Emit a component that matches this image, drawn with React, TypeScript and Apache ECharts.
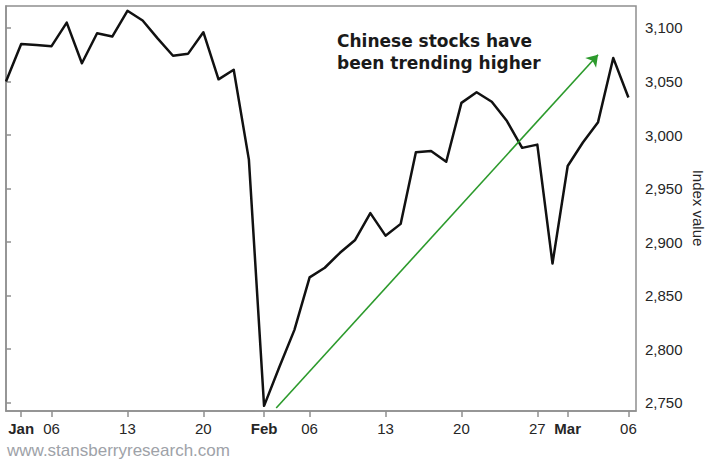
import React, { useEffect, useRef } from "react";
import * as echarts from "echarts";

// Trading days (Shanghai Composite, Dec 31 2019 – Mar 6 2020)
const dates = [
  "2019-12-31",
  "2020-01-02", "2020-01-03", "2020-01-06", "2020-01-07", "2020-01-08", "2020-01-09", "2020-01-10",
  "2020-01-13", "2020-01-14", "2020-01-15", "2020-01-16", "2020-01-17",
  "2020-01-20", "2020-01-21", "2020-01-22", "2020-01-23",
  "2020-02-03", "2020-02-04", "2020-02-05", "2020-02-06", "2020-02-07",
  "2020-02-10", "2020-02-11", "2020-02-12", "2020-02-13", "2020-02-14",
  "2020-02-17", "2020-02-18", "2020-02-19", "2020-02-20", "2020-02-21",
  "2020-02-24", "2020-02-25", "2020-02-26", "2020-02-27", "2020-02-28",
  "2020-03-02", "2020-03-03", "2020-03-04", "2020-03-05", "2020-03-06",
];

const indexValues = [
  3050,
  3085, 3084, 3083, 3105, 3067, 3095, 3092,
  3116, 3107, 3090, 3074, 3076,
  3096, 3052, 3061, 2977,
  2747, 2783, 2818, 2867, 2876,
  2890, 2902, 2927, 2906, 2917,
  2984, 2985, 2975, 3030, 3040,
  3031, 3013, 2988, 2991, 2880,
  2971, 2993, 3012, 3072, 3035,
];

const tickDates = [
  "2020-01-02", "2020-01-06", "2020-01-13", "2020-01-20",
  "2020-02-03", "2020-02-06", "2020-02-13", "2020-02-20", "2020-02-27",
  "2020-03-02", "2020-03-06",
];
const tickLabels = ["Jan", "06", "13", "20", "Feb", "06", "13", "20", "27", "Mar", "06"];
const monthLabels = ["Jan", "Feb", "Mar"];

const yTicks = [2750, 2800, 2850, 2900, 2950, 3000, 3050, 3100];
const yAxisTitle = "Index value";

// Trend arrow: [startDateIndex, startValue], [endDateIndex, endValue]
const arrowStart = [17.8, 2745];
const arrowEnd = [39.0, 3075];

const annotationLines = ["Chinese stocks have", "been trending higher"];
const watermark = "www.stansberryresearch.com";

export default function App() {
  const ref = useRef<HTMLDivElement>(null);

  useEffect(() => {
    if (!ref.current) return;
    const chart = echarts.init(ref.current, undefined, { renderer: "svg" });

    const seriesData = indexValues.map((v, i) => [i, v]);
    const tickIdx = tickDates.map((d) => dates.indexOf(d));
    const labelFor: Record<number, string> = {};
    tickIdx.forEach((idx, k) => (labelFor[idx] = tickLabels[k]));

    const axisColor = "#8f8f8f";
    const textColor = "#262626";

    chart.setOption({
      animation: false,
      backgroundColor: "#ffffff",
      grid: {
        left: 6,
        right: 71,
        top: 6,
        bottom: 51,
        show: true,
        borderColor: axisColor,
        borderWidth: 1.5,
        containLabel: false,
        outerBoundsMode: "none",
      },
      xAxis: {
        type: "value",
        min: 0,
        max: 41.5,
        axisLine: { show: true, lineStyle: { color: axisColor, width: 1.5 } },
        axisTick: {
          show: true,
          length: 6,
          customValues: tickIdx,
          lineStyle: { color: axisColor, width: 1.5 },
        },
        splitLine: { show: false },
        axisLabel: {
          customValues: tickIdx,
          margin: 10,
          fontFamily: "Liberation Sans, Arial, sans-serif",
          fontSize: 15,
          color: textColor,
          formatter: (v: number) => {
            const l = labelFor[Math.round(v)] ?? "";
            return monthLabels.includes(l) ? `{b|${l}}` : l;
          },
          rich: {
            b: {
              fontWeight: "bold",
              fontFamily: "Liberation Sans, Arial, sans-serif",
              fontSize: 15,
              color: textColor,
            },
          },
        },
      },
      yAxis: {
        type: "value",
        position: "right",
        min: 2742.2,
        max: 3120.5,
        axisLine: { show: true, lineStyle: { color: axisColor, width: 1.5 } },
        axisTick: {
          show: true,
          length: 5,
          customValues: yTicks,
          lineStyle: { color: axisColor, width: 1.5 },
        },
        splitLine: { show: false },
        axisLabel: {
          customValues: yTicks,
          margin: 9,
          fontFamily: "Liberation Sans, Arial, sans-serif",
          fontSize: 15,
          color: textColor,
          formatter: (v: number) => v.toLocaleString("en-US"),
        },
      },
      series: [
        {
          type: "line",
          data: seriesData,
          showSymbol: false,
          symbol: "none",
          lineStyle: { color: "#111111", width: 2.5, join: "round" },
          silent: true,
          markLine: {
            silent: true,
            symbol: ["none", "arrow"],
            symbolSize: 11,
            label: { show: false },
            lineStyle: { color: "#2c9a2c", width: 1.6, type: "solid" },
            itemStyle: { color: "#2c9a2c" },
            data: [[{ coord: arrowStart }, { coord: arrowEnd }]],
          },
        },
      ],
      graphic: [
        {
          type: "text",
          x: 698,
          y: 208,
          rotation: -Math.PI / 2,
          style: {
            text: yAxisTitle,
            fontFamily: "Liberation Sans, Arial, sans-serif",
            fontSize: 15,
            fill: textColor,
            align: "center",
            verticalAlign: "middle",
          },
        },
        {
          type: "text",
          left: 337,
          top: 30,
          style: {
            text: annotationLines.join("\n"),
            fontFamily: "DejaVu Sans, Verdana, sans-serif",
            fontWeight: "bold",
            fontSize: 17,
            lineHeight: 22,
            fill: "#1a1a1a",
            align: "left",
          },
        },
        {
          type: "text",
          left: 7,
          top: 442,
          style: {
            text: watermark,
            fontFamily: "Liberation Sans, Arial, sans-serif",
            fontSize: 17,
            fill: "#9ea2a8",
          },
        },
      ],
    });

    return () => chart.dispose();
  }, []);

  return (
    <div
      ref={ref}
      style={{ position: "fixed", left: 0, top: 0, width: 707, height: 462 }}
    />
  );
}
